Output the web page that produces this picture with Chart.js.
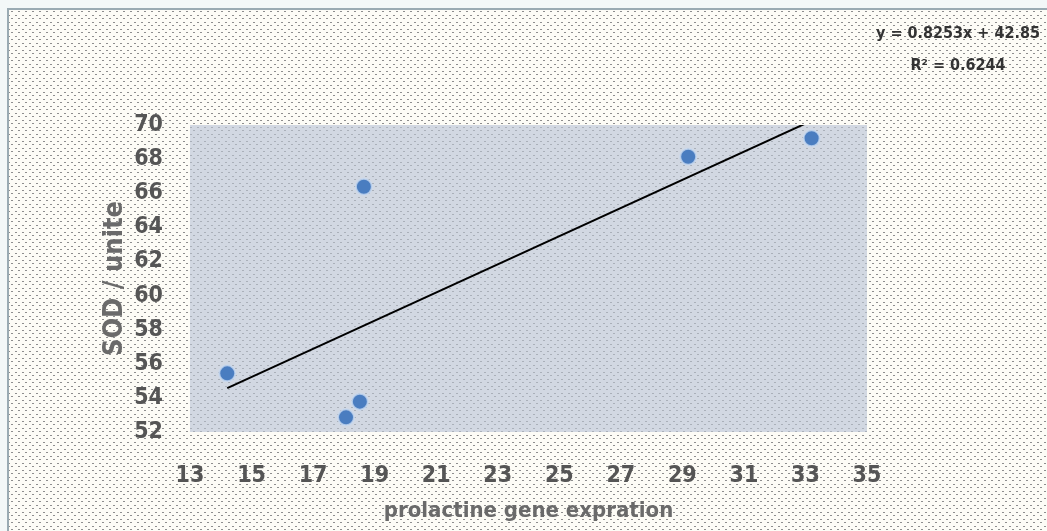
<!DOCTYPE html>
<html>
<head>
<meta charset="utf-8">
<title>SOD vs prolactine</title>
<script src="https://cdn.jsdelivr.net/npm/chart.js@4.4.0/dist/chart.umd.min.js"></script>
<style>
  html, body { margin: 0; padding: 0; background: #f3f8f8; }
  #wrap { width: 1047px; height: 531px; }
</style>
</head>
<body>
<div id="wrap"><canvas id="chart"></canvas></div>
<script>
// measured samples
const expression = [14.21, 18.65, 18.52, 18.07, 29.19, 33.20];
const sodUnits = [55.44, 66.38, 53.78, 52.86, 68.14, 69.22];

const xTicks = [13, 15, 17, 19, 21, 23, 25, 27, 29, 31, 33, 35];
const yTicks = [52, 54, 56, 58, 60, 62, 64, 66, 68, 70];

// linear fit shown in the corner
const slope = 0.8253;
const intercept = 42.85;
const rSquared = 0.6244;

const narrow = "'DejaVu Sans Condensed', sans-serif";

// small dotted tile, used for the chart and plot backgrounds
function dotPattern(ctx, color) {
    const tile = document.createElement('canvas');
    tile.width = 7;
    tile.height = 7;
    const t = tile.getContext('2d');
    t.fillStyle = color;
    t.fillRect(1, 1, 2, 1);
    t.fillRect(4, 4, 2, 1);
    return ctx.createPattern(tile, 'repeat');
}

const backdrop = {
    id: 'backdrop',
    beforeDraw(chart) {
        const { ctx, chartArea: a, width, height } = chart;
        ctx.save();
        ctx.fillStyle = '#f3f8f8';
        ctx.fillRect(0, 0, width, height);
        ctx.fillStyle = '#fdfcf6';
        ctx.fillRect(8, 9, width - 8, height - 9);
        ctx.fillStyle = dotPattern(ctx, '#8e8e8e');
        ctx.fillRect(8, 9, width - 8, height - 9);
        // frame edges
        ctx.strokeStyle = '#9aabb3';
        ctx.lineWidth = 2;
        ctx.beginPath();
        ctx.moveTo(8, height);
        ctx.lineTo(8, 9);
        ctx.lineTo(width, 9);
        ctx.stroke();
        // plot area
        ctx.fillStyle = '#d2d8e2';
        ctx.fillRect(a.left, a.top, a.right - a.left, a.bottom - a.top);
        ctx.fillStyle = dotPattern(ctx, '#aab0b9');
        ctx.fillRect(a.left, a.top, a.right - a.left, a.bottom - a.top);
        ctx.restore();
    }
};

const equation = {
    id: 'equation',
    afterDraw(chart) {
        const ctx = chart.ctx;
        ctx.save();
        ctx.fillStyle = '#333333';
        ctx.font = 'bold 16px ' + narrow;
        ctx.textAlign = 'center';
        ctx.textBaseline = 'middle';
        ctx.fillText('y = ' + slope + 'x + ' + intercept, 958, 34);
        ctx.fillText('R\u00b2 = ' + rSquared, 958, 66);
        ctx.restore();
    }
};

const points = expression.map((x, i) => ({ x: x, y: sodUnits[i] }));
const xMin = Math.min(...expression);
const xMax = Math.max(...expression);
const fitLine = [
    { x: xMin, y: slope * xMin + intercept },
    { x: xMax, y: slope * xMax + intercept }
];

new Chart(document.getElementById('chart'), {
    type: 'scatter',
    data: {
        datasets: [{
            data: points,
            backgroundColor: '#4a7dc0',
            borderColor: 'rgba(200, 218, 240, 0.8)',
            borderWidth: 2,
            pointRadius: 8,
            pointHoverRadius: 8
        }, {
            type: 'line',
            data: fitLine,
            borderColor: '#000000',
            borderWidth: 2,
            pointRadius: 0,
            fill: false
        }]
    },
    options: {
        responsive: true,
        maintainAspectRatio: false,
        animation: false,
        layout: { padding: { left: 90, top: 125, right: 180, bottom: 0 } },
        plugins: {
            legend: { display: false },
            tooltip: { enabled: false }
        },
        scales: {
            x: {
                type: 'linear',
                min: 13,
                max: 35,
                afterBuildTicks: s => { s.ticks = xTicks.map(v => ({ value: v })); },
                afterFit: s => { s.height = 99; },
                grid: { display: false, drawTicks: false },
                border: { display: false },
                ticks: {
                    autoSkip: false,
                    maxRotation: 0,
                    padding: 30,
                    color: '#555555',
                    font: { family: narrow, size: 23, weight: 'bold' }
                },
                title: {
                    display: true,
                    text: 'prolactine gene expration',
                    color: '#6a6a6a',
                    padding: { top: 0, bottom: 7 },
                    font: { family: narrow, size: 22, weight: 'bold' }
                }
            },
            y: {
                type: 'linear',
                min: 52,
                max: 70,
                afterBuildTicks: s => { s.ticks = yTicks.map(v => ({ value: v })); },
                afterFit: s => { s.width = 100; },
                grid: { display: false, drawTicks: false },
                border: { display: false },
                ticks: {
                    autoSkip: false,
                    padding: 27,
                    color: '#555555',
                    font: { family: narrow, size: 23, weight: 'bold' }
                },
                title: {
                    display: true,
                    text: 'SOD / unite',
                    color: '#6a6a6a',
                    padding: { top: 9, bottom: 0 },
                    font: { family: narrow, size: 27, weight: 'bold' }
                }
            }
        }
    },
    plugins: [backdrop, equation]
});
</script>
</body>
</html>
